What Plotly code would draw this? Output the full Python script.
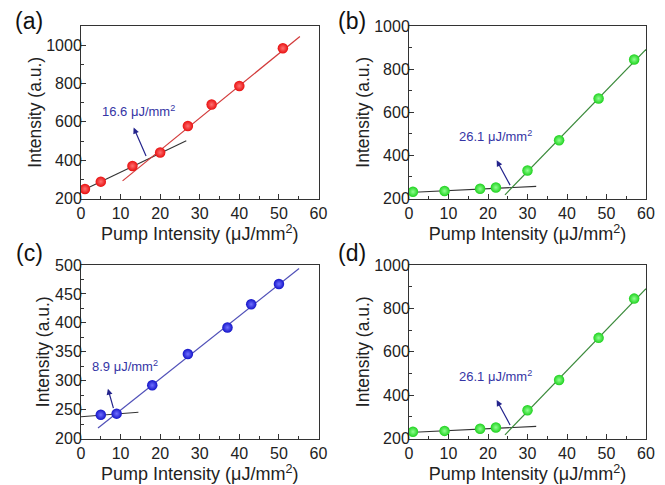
import plotly.graph_objects as go

# ---- data ----
a_x = [1, 5, 13, 20, 27, 33, 40, 51]
a_y = [250, 288, 370, 440, 578, 690, 787, 984]
a_hi_x = [10.5, 55.3]
a_hi_y = [292, 1045]
a_lo_x = [1.8, 26.6]
a_lo_y = [256, 501]
a_label = "16.6 μJ/mm<sup>2</sup>"

b_x = [1, 9, 18, 22, 30, 38, 48, 57]
b_y = [231, 235, 245, 251, 330, 470, 664, 845]
b_hi_x = [24.3, 60]
b_hi_y = [217, 891]
b_lo_x = [0, 32.2]
b_lo_y = [228, 256]
b_label = "26.1 μJ/mm<sup>2</sup>"

c_x = [5, 9, 18, 27, 37, 43, 50]
c_y = [241, 243, 292, 346, 392, 432, 467]
c_hi_x = [4.3, 55.1]
c_hi_y = [218, 494]
c_lo_x = [0, 14.5]
c_lo_y = [237.6, 245.5]
c_label = "8.9 μJ/mm<sup>2</sup>"

d_x = b_x
d_y = b_y
d_hi_x = b_hi_x
d_hi_y = b_hi_y
d_lo_x = b_lo_x
d_lo_y = b_lo_y
d_label = b_label

panel_tags = ["(a)", "(b)", "(c)", "(d)"]
x_title = "Pump Intensity (μJ/mm<sup>2</sup>)"
y_title = "Intensity (a.u.)"

W, H = 665, 485
OFF = 8  # page body margin offset of the plot div
FONT = "Liberation Sans, Arial, sans-serif"

# panel boxes in page pixels: (left, right, top, bottom)
boxes = [(81, 318.5, 26, 198.5), (409, 646, 26, 198.5),
         (81, 318.5, 265, 438.5), (409, 646, 265, 438.5)]
yranges = [[200, 1100], [200, 1000], [200, 500], [200, 1000]]
ydticks = [200, 200, 50, 200]

panels = [
    (a_x, a_y, a_hi_x, a_hi_y, a_lo_x, a_lo_y, a_label, "#e81010", "#ff7070", "#d23a3a",
     (13.3, 570), (16.6, 414), (14.5, 657)),
    (b_x, b_y, b_hi_x, b_hi_y, b_lo_x, b_lo_y, b_label, "#1ed21e", "#90ff90", "#3a8a3a",
     (22.2, 377), (25.8, 255), (21.8, 488)),
    (c_x, c_y, c_hi_x, c_hi_y, c_lo_x, c_lo_y, c_label, "#1414c8", "#7070ff", "#5050b8",
     (6.8, 286), (8.3, 250), (11.2, 326)),
    (d_x, d_y, d_hi_x, d_hi_y, d_lo_x, d_lo_y, d_label, "#1ed21e", "#90ff90", "#3a8a3a",
     (22.2, 377), (25.8, 255), (21.8, 488)),
]

fig = go.Figure()
layout = dict(width=W, height=H, margin=dict(l=0, r=0, t=0, b=0, pad=0), autosize=False,
              paper_bgcolor="white", plot_bgcolor="white", showlegend=False,
              font=dict(family=FONT, color="#222"))
annotations = []

for i, (px, py, hx, hy, lx, ly, lab, mc, gc, lc, head, tail, tpos) in enumerate(panels):
    n = "" if i == 0 else str(i + 1)
    xa, ya = "x" + n, "y" + n
    l, r, t, b = [v - OFF for v in boxes[i]]
    layout["xaxis" + n] = dict(
        domain=[l / W, r / W], range=[0, 60], anchor=ya, dtick=10, automargin=False,
        showgrid=False, zeroline=False, showline=True, linecolor="#333", linewidth=1,
        mirror=True, ticks="inside", ticklen=5, tickcolor="#333",
        minor=dict(ticks="inside", ticklen=3, dtick=5, tickcolor="#333"),
        tickfont=dict(size=16, family=FONT, color="#222"),
        title=dict(text=x_title, font=dict(size=18, family=FONT, color="#222"), standoff=1),
    )
    layout["yaxis" + n] = dict(
        domain=[1 - b / H, 1 - t / H], range=yranges[i], anchor=xa, dtick=ydticks[i],
        automargin=False, ticklabelstandoff=-5,
        showgrid=False, zeroline=False, showline=True, linecolor="#333", linewidth=1,
        mirror=True, ticks="inside", ticklen=5, tickcolor="#333",
        minor=dict(ticks="inside", ticklen=3, dtick=ydticks[i] / 2, tickcolor="#333"),
        tickfont=dict(size=16, family=FONT, color="#222"),
        title=dict(text=y_title, font=dict(size=17.5, family=FONT, color="#222"), standoff=0),
    )
    fig.add_trace(go.Scatter(x=lx, y=ly, mode="lines", xaxis=xa, yaxis=ya,
                             line=dict(color="#333", width=1.1), hoverinfo="skip"))
    fig.add_trace(go.Scatter(x=hx, y=hy, mode="lines", xaxis=xa, yaxis=ya,
                             line=dict(color=lc, width=1.2), hoverinfo="skip"))
    fig.add_trace(go.Scatter(x=px, y=py, mode="markers", xaxis=xa, yaxis=ya,
                             marker=dict(size=10.5, color=mc,
                                         gradient=dict(type="radial", color=gc),
                                         line=dict(width=0))))
    annotations.append(dict(x=head[0], y=head[1], ax=tail[0], ay=tail[1],
                            xref=xa, yref=ya, axref=xa, ayref=ya, text="",
                            showarrow=True, arrowhead=2, arrowsize=1, arrowwidth=1.2,
                            arrowcolor="#24248c"))
    annotations.append(dict(x=tpos[0], y=tpos[1], xref=xa, yref=ya, text=lab,
                            showarrow=False, xanchor="center", yanchor="middle",
                            font=dict(size=13, family=FONT, color="#3535a5")))
    tag_x = (29 if i % 2 == 0 else 352) - OFF
    tag_y = (21 if i < 2 else 253) - OFF
    annotations.append(dict(x=tag_x / W, y=1 - tag_y / H, xref="paper", yref="paper",
                            text=panel_tags[i], showarrow=False, xanchor="center",
                            yanchor="middle", font=dict(size=23, family=FONT, color="#111")))

layout["annotations"] = annotations
fig.update_layout(**layout)
fig.write_html("out.html")
